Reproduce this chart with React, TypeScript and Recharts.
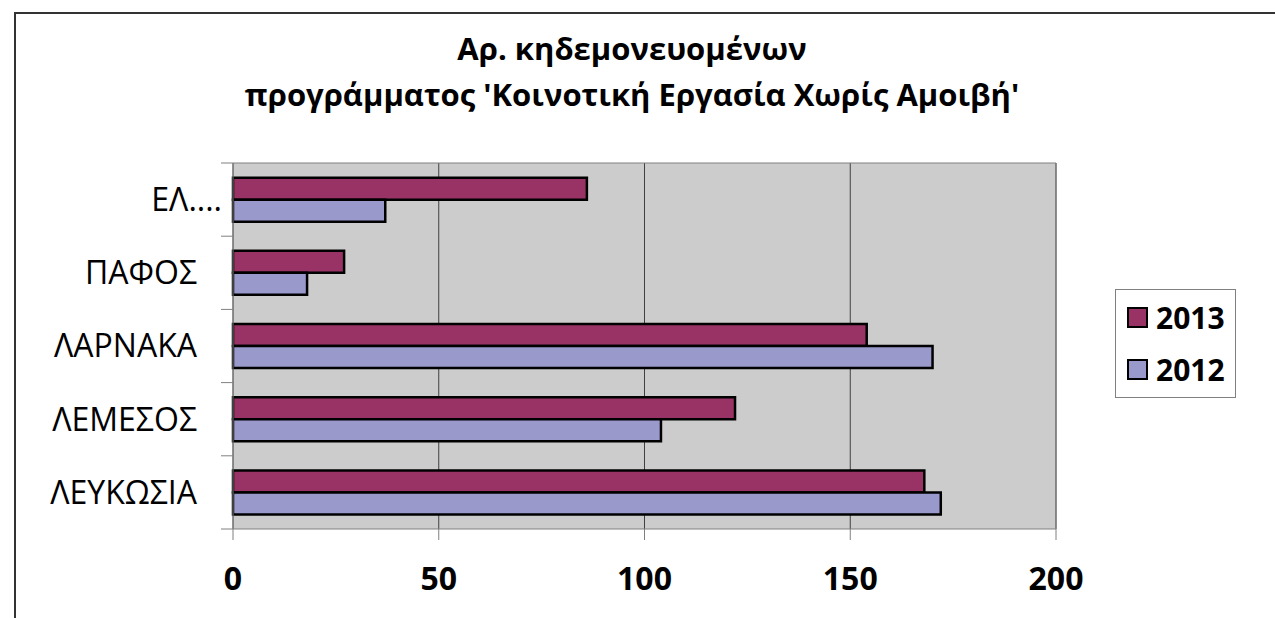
import { BarChart, Bar, XAxis, YAxis, CartesianGrid, Legend } from "recharts";

const regions = ["ΕΛ....", "ΠΑΦΟΣ", "ΛΑΡΝΑΚΑ", "ΛΕΜΕΣΟΣ", "ΛΕΥΚΩΣΙΑ"];
const seriesNames = ["2013", "2012"];
const values2013 = [86, 27, 154, 122, 168];
const values2012 = [37, 18, 170, 104, 172];
const xTicks = [0, 50, 100, 150, 200];

const FONT = "'Open Sans', sans-serif";
const COLOR_2013 = "#993366";
const COLOR_2012 = "#9999cc";
const AXIS_GRAY = "#808080";
const CAT_MARGIN = 36;
const CAT_TICK = 12;

const data = regions.map((name, i) => ({
  name,
  y2013: values2013[i],
  y2012: values2012[i],
}));

function CategoryTick({ x, y, payload, index, visibleTicksCount }: any) {
  // Excel puts the tick marks between categories, not on them
  const axisX = x + CAT_MARGIN;
  const half = payload.offset || 0;
  const last = index === (visibleTicksCount ?? regions.length) - 1;
  // truncated labels sit closer to the axis in the original
  const shift = String(payload.value).endsWith("....") ? 25 : 0;
  return (
    <g>
      <line x1={axisX - CAT_TICK} x2={axisX} y1={y - half} y2={y - half} stroke={AXIS_GRAY} />
      {last && (
        <line x1={axisX - CAT_TICK} x2={axisX} y1={y + half} y2={y + half} stroke={AXIS_GRAY} />
      )}
      <text
        x={x + shift}
        y={y}
        dy="0.357em"
        textAnchor="end"
        fontSize={32}
        fontFamily={FONT}
        fill="#000"
      >
        {payload.value}
      </text>
    </g>
  );
}

function LegendBox({ payload }: any) {
  const items = seriesNames
    .map((n) => (payload || []).find((p: any) => p.value === n))
    .filter(Boolean);
  return (
    <div
      style={{
        width: 121,
        height: 109,
        border: "1px solid #808080",
        background: "#fff",
        display: "flex",
        flexDirection: "column",
        justifyContent: "center",
        gap: 14,
        paddingLeft: 11,
        boxSizing: "border-box",
      }}
    >
      {items.map((item: any) => (
        <div key={item.value} style={{ display: "flex", alignItems: "center", height: 38 }}>
          <span
            style={{
              width: 17,
              height: 17,
              background: item.color,
              border: "2px solid #000",
              marginRight: 8,
            }}
          />
          <span style={{ fontFamily: FONT, fontWeight: 700, fontSize: 30, color: "#000" }}>
            {item.value}
          </span>
        </div>
      ))}
    </div>
  );
}

export default function App() {
  return (
    <div
      style={{
        position: "absolute",
        left: 0,
        top: 0,
        width: 1275,
        height: 618,
        overflow: "hidden",
        background: "#fff",
      }}
    >
      <div
        style={{
          position: "absolute",
          left: 14,
          top: 12,
          width: 1300,
          height: 700,
          borderLeft: "2px solid #333",
          borderTop: "2px solid #333",
        }}
      />
      <div
        style={{
          position: "absolute",
          left: 0,
          top: 25,
          width: 1264,
          textAlign: "center",
          fontFamily: FONT,
          fontWeight: 700,
          fontSize: 31,
          lineHeight: "46px",
          color: "#000",
        }}
      >
        Αρ. κηδεμονευομένων
        <br />
        προγράμματος 'Κοινοτική Εργασία Χωρίς Αμοιβή'
      </div>
      <div style={{ position: "absolute", left: 0, top: 0 }}>
        <BarChart
          width={1275}
          height={618}
          data={data}
          layout="vertical"
          margin={{ top: 162, right: 218, bottom: 29, left: 0 }}
          barCategoryGap="20%"
          barGap={0}
        >
          <CartesianGrid
            xAxisId={0}
            yAxisId="cat"
            horizontal={false}
            vertical={true}
            stroke="#404040"
            fill="#cccccc"
            fillOpacity={1}
          />
          <XAxis
            xAxisId={0}
            type="number"
            domain={[0, 200]}
            ticks={xTicks}
            interval={0}
            stroke={AXIS_GRAY}
            tickSize={11}
            tickMargin={27}
            height={60}
            tick={{ fontSize: 32, fontWeight: 700, fill: "#000", fontFamily: FONT }}
          />
          <XAxis
            xAxisId="top"
            orientation="top"
            type="number"
            domain={[0, 200]}
            height={1}
            tick={false}
            tickLine={false}
            stroke={AXIS_GRAY}
          />
          <YAxis
            yAxisId="cat"
            type="category"
            dataKey="name"
            width={233}
            stroke={AXIS_GRAY}
            tickLine={false}
            tickSize={0}
            tickMargin={CAT_MARGIN}
            interval={0}
            tick={<CategoryTick />}
          />
          <YAxis
            yAxisId="right"
            orientation="right"
            type="number"
            domain={[0, 5]}
            width={1}
            tick={false}
            tickLine={false}
            stroke={AXIS_GRAY}
          />
          <Legend
            layout="vertical"
            align="center"
            verticalAlign="middle"
            wrapperStyle={{ left: 1115, top: 289, width: 121, height: 109 }}
            content={<LegendBox />}
          />
          <Bar
            dataKey="y2013"
            name={seriesNames[0]}
            xAxisId={0}
            yAxisId="cat"
            fill={COLOR_2013}
            stroke="#000"
            strokeWidth={2.5}
            isAnimationActive={false}
          />
          <Bar
            dataKey="y2012"
            name={seriesNames[1]}
            xAxisId={0}
            yAxisId="cat"
            fill={COLOR_2012}
            stroke="#000"
            strokeWidth={2.5}
            isAnimationActive={false}
          />
        </BarChart>
      </div>
    </div>
  );
}
